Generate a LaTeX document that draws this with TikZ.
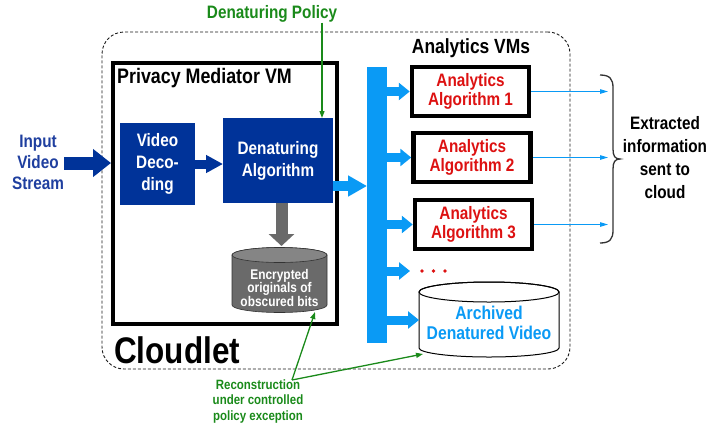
\documentclass[tikz,border=0pt]{standalone}
\usepackage{fontspec}
\setmainfont[FakeStretch=0.85]{Liberation Sans}
\usetikzlibrary{arrows.meta}
\definecolor{dblue}{HTML}{003399}
\definecolor{tblue}{HTML}{1F3F9F}
\definecolor{lblue}{HTML}{0A9AF5}
\definecolor{ared}{HTML}{DD1111}
\definecolor{pgreen}{HTML}{1A8A1A}
\definecolor{cgray}{HTML}{6A6A6A}
\definecolor{cgraytop}{HTML}{858585}
\begin{document}
\begin{tikzpicture}[x=1pt,y=-1pt,
  txt/.style={align=center, inner sep=0pt, font=\bfseries\fontsize{18}{21}\selectfont},
  bluebox/.style={fill=dblue, text=white, inner sep=0pt, outer sep=0pt, align=center,
     font=\bfseries\fontsize{18}{22}\selectfont},
  algbox/.style={draw=black, line width=4.5pt, fill=white, inner sep=0pt, outer sep=2.25pt,
     minimum width=117pt, minimum height=49pt, align=center, text=ared,
     font=\bfseries\fontsize{18}{19.5}\selectfont},
  busarrow/.style={lblue, line width=9pt, -{Triangle[length=11pt,width=17pt]}},
  outarrow/.style={lblue, line width=1pt, -{Triangle[length=8pt,width=4.5pt]}},
  greenarrow/.style={pgreen, line width=1.3pt, -{Triangle[length=7pt,width=5pt]}}]
\useasboundingbox (0,0) rectangle (727,426);

% containers
\node[draw=black!90, dash pattern=on 3pt off 2pt, line width=0.9pt, rounded corners=22pt,
  minimum width=468pt, minimum height=337pt, inner sep=0pt] (cloudlet) at (336,200.5) {};
\node[draw=black, line width=4pt, minimum width=224pt, minimum height=261pt, inner sep=0pt,
  outer sep=2pt] (pvm) at (225,193.5) {};
\node[txt, anchor=west, font=\bfseries\fontsize{21}{24}\selectfont] (pvmlabel) at (117,78) {Privacy Mediator VM};
\node[txt, anchor=base west, font=\bfseries\fontsize{37}{40}\selectfont] (cloudletlabel) at (114,363) {Cloudlet};

% input
\node[txt, text=tblue] (input) at (38,162) {Input\\Video\\Stream};
\node[bluebox, minimum width=75pt, minimum height=82pt] (vd) at (157.5,164) {Video\\Deco-\\ding};
\node[bluebox, minimum width=110pt, minimum height=85pt] (da) at (278,160.5) {Denaturing\\Algorithm};
\draw[dblue, line width=13pt, -{Triangle[length=18pt,width=27pt]}] (input.east |- 0,163) -- (pvm.west |- 0,163);
\draw[dblue, line width=9pt, -{Triangle[length=17pt,width=17pt]}] (vd.east) -- (vd.east -| da.west);

% policy
\node[txt, text=pgreen] (pol) at (272,14) {Denaturing Policy};
\draw[pgreen, line width=1.2pt, -{Triangle[length=7pt,width=5pt]}] ([xshift=-11pt]da.north east |- pol.south) -- ([xshift=-11pt]da.north east);

% encrypted cylinder
\path[fill=cgray, draw=black!80, line width=0.6pt] (232,255) -- (232,305)
  arc[start angle=180, end angle=360, x radius=47.5pt, y radius=7.5pt] -- (327,255)
  arc[start angle=0, end angle=180, x radius=47.5pt, y radius=7.5pt] -- cycle;
\filldraw[fill=cgraytop, draw=black!80, line width=0.6pt] (279.5,255) ellipse [x radius=47.5pt, y radius=7.5pt];
\node[txt, text=white, font=\bfseries\fontsize{14}{13.5}\selectfont] (enc) at (279.5,287.5) {Encrypted\\originals of\\obscured bits};
\coordinate (encTop) at (281.5,246);
\coordinate (encB) at (315,312);
\draw[cgray, line width=12pt, -{Triangle[length=12pt,width=25pt]}] (da.south -| encTop) -- (encTop);

% bus
\node[fill=lblue, minimum width=20pt, minimum height=276pt, inner sep=0pt, outer sep=0pt] (bus) at (377,205) {};
\draw[lblue, line width=10pt, -{Triangle[length=19pt,width=20pt]}] (da.east |- 0,186) -- (bus.west |- 0,186);

% analytics
\node[txt, font=\bfseries\fontsize{20.5}{24}\selectfont] (avm) at (471,48) {Analytics VMs};
\node[algbox] (a1) at (470.5,91.5) {Analytics\\Algorithm 1};
\node[algbox] (a2) at (472,157.5) {Analytics\\Algorithm 2};
\node[algbox] (a3) at (473.5,224.5) {Analytics\\Algorithm 3};
\draw[busarrow] (bus.east |- a1.west) -- (a1.west);
\draw[busarrow] (bus.east |- a2.west) -- (a2.west);
\draw[busarrow] (bus.east |- a3.west) -- (a3.west);
\coordinate (dotsL) at (410,271);
\draw[busarrow] (bus.east |- dotsL) -- (dotsL);
\fill[ared] (422,271) circle (1.8pt) (433.5,271) circle (1.8pt) (445,271) circle (1.8pt);

% archived cylinder
\path[fill=white, draw=black, line width=1pt] (419,292) -- (419,348)
  arc[start angle=180, end angle=360, x radius=70pt, y radius=9pt] -- (559,292)
  arc[start angle=0, end angle=180, x radius=70pt, y radius=10pt] -- cycle;
\draw[line width=1pt] (489,292) ellipse [x radius=70pt, y radius=10pt];
\node[txt, text=lblue, font=\bfseries\fontsize{18.5}{20}\selectfont] (arch) at (489,323) {Archived\\Denatured Video};
\coordinate (archW) at (419,320);
\coordinate (archB) at (423,354);
\draw[busarrow] (bus.east |- archW) -- (archW);

% outputs
\coordinate (outX) at (608,0);
\draw[outarrow] (a1.east) -- (a1.east -| outX);
\draw[outarrow] (a2.east) -- (a2.east -| outX);
\draw[outarrow] (a3.east) -- (a3.east -| outX);
\draw[black!80, line width=1.3pt] (600,75) .. controls (610,75) and (613,79) .. (613,88) -- (613,149)
  .. controls (613,156) and (615,159) .. (620,159) .. controls (615,159) and (613,162) .. (613,169)
  -- (613,230) .. controls (613,239) and (610,243) .. (600,243);
\node[txt, font=\bfseries\fontsize{18}{23}\selectfont] (ext) at (665,158) {Extracted\\information\\sent to\\cloud};

% reconstruction
\node[txt, text=pgreen, font=\bfseries\fontsize{13.5}{15.5}\selectfont] (rec) at (258,401) {Reconstruction\\under controlled\\policy exception};
\coordinate (rs) at (292,380);
\draw[greenarrow] (rs) -- (encB);
\draw[greenarrow] (rs) -- (archB);
\end{tikzpicture}
\end{document}
